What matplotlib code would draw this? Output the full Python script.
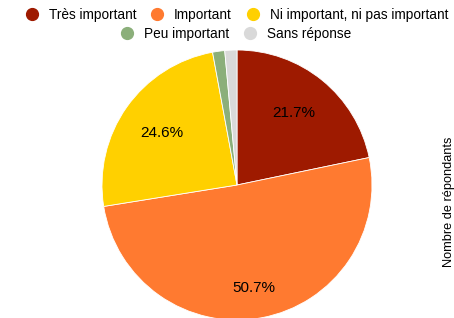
import matplotlib.pyplot as plt
from matplotlib.lines import Line2D

plt.rcParams['font.family'] = ['Liberation Sans', 'DejaVu Sans']

# Données
categories = ['Très important', 'Important', 'Ni important, ni pas important',
              'Peu important', 'Sans réponse']
repondants = [15, 35, 17, 1, 1]
couleurs = ['#9E1A00', '#FF7A30', '#FFD000', '#8BAF7A', '#D9D9D9']
label_pos = [(0.42, 0.53), (0.125, -0.765), (-0.56, 0.385)]

fig = plt.figure(figsize=(4.54, 3.18), dpi=100)
# axe carré centré sur le camembert
ax = fig.add_axes([102 / 454, -2 / 318, 270 / 454, 270 / 318])

wedges, _, autotexts = ax.pie(
    repondants, colors=couleurs, startangle=90, counterclock=False,
    autopct=lambda p: f'{p:.1f}%' if p > 5 else '',
    wedgeprops=dict(edgecolor='white', linewidth=0.6),
    textprops=dict(fontsize=11, color='black'))
for t, pos in zip(autotexts, label_pos):
    t.set_position(pos)
ax.set_xlim(-1, 1)
ax.set_ylim(-1, 1)
ax.set_aspect('equal')

def handles(idx):
    return [Line2D([], [], marker='o', linestyle='', markersize=8.5,
                   markerfacecolor=couleurs[i], markeredgecolor=couleurs[i])
            for i in idx]

fig.legend(handles([0, 1, 2]), categories[:3], ncol=3, loc='center',
           bbox_to_anchor=(0.521, 1 - 15 / 318), frameon=False,
           fontsize=9.8, handletextpad=0.75, columnspacing=1.05,
           handlelength=1.0)
fig.legend(handles([3, 4]), categories[3:], ncol=2, loc='center',
           bbox_to_anchor=(0.519, 1 - 34 / 318), frameon=False,
           fontsize=9.8, handletextpad=0.75, columnspacing=1.05,
           handlelength=1.0)

fig.text(449 / 454, 1 - 202 / 318, 'Nombre de répondants', rotation=90,
         ha='center', va='center', fontsize=9.2)

fig.savefig('out.png', dpi=100)
